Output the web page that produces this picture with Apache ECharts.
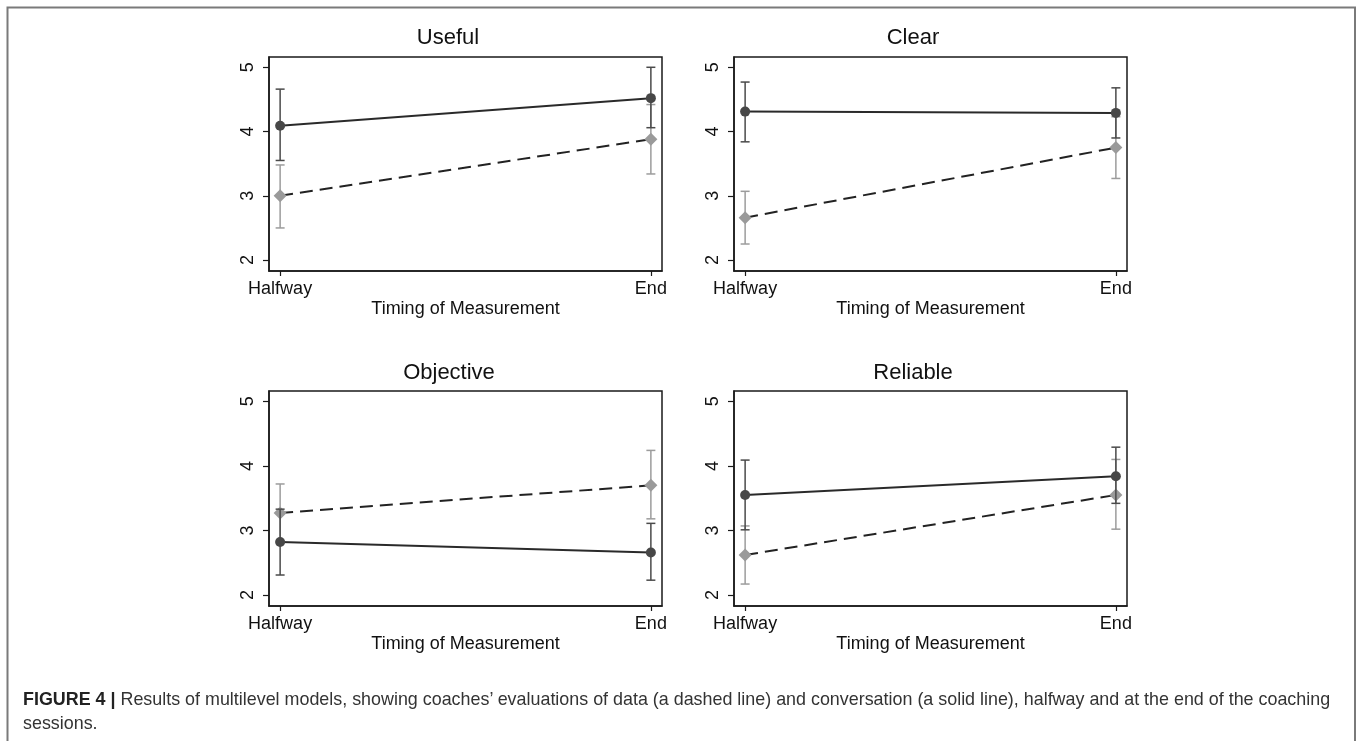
<!DOCTYPE html>
<html>
<head>
    <meta charset="utf-8">
    <title>Figure 4</title>
    <script src="https://cdn.jsdelivr.net/npm/echarts@6/dist/echarts.min.js"></script>
    <style>
        html, body { margin: 0; padding: 0; background: #fff; }
        #wrap { position: relative; width: 1357px; height: 741px; overflow: hidden; }
        #main { position: absolute; left: 0; top: 0; width: 1357px; height: 741px; }
        #caption {
            position: absolute; left: 23px; top: 687px; width: 1330px;
            font-family: "Liberation Sans", Arial, sans-serif; font-size: 17.9px;
            line-height: 24px; color: #333; white-space: nowrap;
        }
        #caption b { color: #222; }
    </style>
</head>
<body>
<div id="wrap">
    <div id="main"></div>
    <div id="caption"><b>FIGURE 4 |</b> Results of multilevel models, showing coaches’ evaluations of data (a dashed line) and conversation (a solid line), halfway and at the end of the coaching<br>sessions.</div>
</div>
<script type="text/javascript">
    var panels = ['Useful', 'Clear', 'Objective', 'Reliable'];
    var timing = ['Halfway', 'End'];
    var yTicks = [2, 3, 4, 5];

    // conversation (solid line, dark circles)
    var convMean = [[4.09, 4.52], [4.31, 4.29], [2.82, 2.66], [3.55, 3.84]];
    var convLow  = [[3.55, 4.06], [3.84, 3.90], [2.31, 2.23], [3.01, 3.42]];
    var convHigh = [[4.66, 5.00], [4.77, 4.68], [3.33, 3.11], [4.09, 4.29]];

    // data (dashed line, grey diamonds)
    var dataMean = [[3.00, 3.88], [2.66, 3.75], [3.27, 3.70], [2.62, 3.55]];
    var dataLow  = [[2.50, 3.34], [2.25, 3.27], [2.82, 3.18], [2.17, 3.02]];
    var dataHigh = [[3.48, 4.42], [3.07, 4.23], [3.72, 4.24], [3.07, 4.10]];

    var FONT = '"Liberation Sans", Arial, sans-serif';
    var INK = '#1a1a1a';

    // panel layout
    var grids = [
        {left: 269, top: 57, width: 393, height: 214},
        {left: 734, top: 57, width: 393, height: 214},
        {left: 269, top: 391, width: 393, height: 215},
        {left: 734, top: 391, width: 393, height: 215}
    ];
    var titlePos = [[448, 38], [913, 38], [449, 373], [913, 373]];

    function errorBars(color) {
        return function (params, api) {
            var x = api.value(0);
            var lo = api.coord([x, api.value(1)]);
            var hi = api.coord([x, api.value(2)]);
            var w = 4.5;
            var st = {stroke: color, lineWidth: 1.5};
            return {
                type: 'group',
                children: [
                    {type: 'line', shape: {x1: lo[0], y1: lo[1], x2: hi[0], y2: hi[1]}, style: st},
                    {type: 'line', shape: {x1: lo[0] - w, y1: lo[1], x2: lo[0] + w, y2: lo[1]}, style: st},
                    {type: 'line', shape: {x1: hi[0] - w, y1: hi[1], x2: hi[0] + w, y2: hi[1]}, style: st}
                ]
            };
        };
    }

    var option = {
        animation: false,
        backgroundColor: '#fff',
        textStyle: {fontFamily: FONT},
        grid: [],
        xAxis: [],
        yAxis: [],
        series: [],
        graphic: []
    };

    // figure frame
    option.graphic.push({
        type: 'polyline',
        shape: {points: [[7.5, 745], [7.5, 7.5], [1355, 7.5], [1355, 745]]},
        style: {stroke: '#7a7a7a', lineWidth: 2, fill: null},
        silent: true
    });

    panels.forEach(function (name, i) {
        var g = grids[i];
        option.grid.push({
            left: g.left, top: g.top, width: g.width, height: g.height,
            containLabel: false, outerBoundsMode: 'none',
            show: true, borderColor: INK, borderWidth: 1.5
        });
        option.xAxis.push({
            type: 'value', gridIndex: i, min: -0.03, max: 1.03,
            name: 'Timing of Measurement', nameLocation: 'middle', nameGap: 29,
            nameTextStyle: {fontSize: 18, color: '#111', fontFamily: FONT},
            axisLine: {show: true, onZero: false, lineStyle: {color: INK, width: 1.5}},
            axisTick: {show: true, length: 5, customValues: [0, 1], lineStyle: {color: INK, width: 1.2}},
            axisLabel: {
                show: true, customValues: [0, 1], margin: 9, fontSize: 18, color: '#111', fontFamily: FONT,
                formatter: function (v) { return timing[Math.round(v)]; }
            },
            splitLine: {show: false}
        });
        option.yAxis.push({
            type: 'value', gridIndex: i, min: 1.83, max: 5.16,
            axisLine: {show: true, onZero: false, lineStyle: {color: INK, width: 1.5}},
            axisTick: {show: true, length: 6, customValues: yTicks, lineStyle: {color: INK, width: 1.2}},
            axisLabel: {
                show: true, customValues: yTicks, rotate: 90, margin: 12,
                fontSize: 18, color: '#111', fontFamily: FONT
            },
            splitLine: {show: false}
        });
        option.graphic.push({
            type: 'text', x: titlePos[i][0], y: titlePos[i][1],
            style: {
                text: name, fontSize: 22, fontFamily: FONT, fill: '#111',
                textAlign: 'center', textVerticalAlign: 'middle', align: 'center', verticalAlign: 'middle'
            }
        });

        // data: dashed line, grey diamonds
        option.series.push({
            type: 'custom', xAxisIndex: i, yAxisIndex: i, z: 2,
            renderItem: errorBars('#9c9c9c'),
            encode: {x: 0, y: [1, 2]},
            data: [0, 1].map(function (t) { return [t, dataLow[i][t], dataHigh[i][t]]; })
        });
        option.series.push({
            type: 'line', xAxisIndex: i, yAxisIndex: i, z: 3,
            symbol: 'diamond', symbolSize: 13,
            itemStyle: {color: '#9a9a9a'},
            lineStyle: {color: '#222', width: 2, type: [13, 7]},
            data: [0, 1].map(function (t) { return [t, dataMean[i][t]]; })
        });

        // conversation: solid line, dark circles
        option.series.push({
            type: 'custom', xAxisIndex: i, yAxisIndex: i, z: 4,
            renderItem: errorBars('#4a4a4a'),
            encode: {x: 0, y: [1, 2]},
            data: [0, 1].map(function (t) { return [t, convLow[i][t], convHigh[i][t]]; })
        });
        option.series.push({
            type: 'line', xAxisIndex: i, yAxisIndex: i, z: 5,
            symbol: 'circle', symbolSize: 10,
            itemStyle: {color: '#474747'},
            lineStyle: {color: '#2a2a2a', width: 2},
            data: [0, 1].map(function (t) { return [t, convMean[i][t]]; })
        });
    });

    var myChart = echarts.init(document.getElementById('main'));
    myChart.setOption(option);
</script>
</body>
</html>
